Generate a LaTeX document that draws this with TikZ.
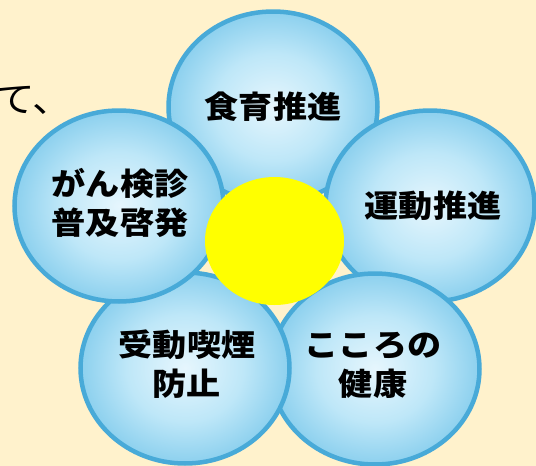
\documentclass[tikz,border=0pt]{standalone}
\usepackage{fontspec}
\newfontfamily\jp{Noto Sans CJK JP}
\usetikzlibrary{shapes.geometric}
\definecolor{bgcream}{RGB}{255,242,204}
\definecolor{petalline}{RGB}{72,170,216}
\definecolor{petalin}{RGB}{230,246,253}
\definecolor{petalmid}{RGB}{190,231,248}
\definecolor{petalout}{RGB}{140,208,238}
\definecolor{sunyellow}{RGB}{255,255,0}
\pgfdeclareradialshading{petalshade}{\pgfpoint{0bp}{0bp}}{%
  color(0bp)=(petalin); color(14bp)=(petalmid); color(25bp)=(petalout); color(50bp)=(petalout)}
\newcommand{\hs}[1]{\scalebox{1.1}[1]{#1}}
\tikzset{
  petal/.style={shape=ellipse, draw=petalline, line width=4.5pt, shading=petalshade,
    inner sep=0pt, minimum width=209pt, minimum height=191pt},
  petaltext/.style={inner sep=0pt, font=\jp\bfseries\fontsize{31}{39}\selectfont, text=black},
  sun/.style={shape=ellipse, fill=sunyellow, inner sep=0pt, minimum width=139pt, minimum height=128pt},
}
\begin{document}
\begin{tikzpicture}[x=1pt,y=-1pt]
\useasboundingbox (0,0) rectangle (536,466);
\fill[bgcream] (0,0) rectangle (536,466);
\node[inner sep=0pt, anchor=base west, font=\jp\fontsize{36}{40}\selectfont] (cut) at (-5,112) {\hs{て、}};
\node[petal] (p1) at (273,107) {};
\node[petal] (p3) at (430,206) {};
\node[petal] (p4) at (375,369) {};
\node[petal] (p5) at (185,368) {};
\node[petal] (p2) at (119,206) {};
\node[sun] (c) at (274.5,241) {};
\node[petaltext] (t1) at (273,107) {\hs{食育推進}};
\node[petaltext] (t2) at (120,207) {\hs{\begin{tabular}{@{}c@{}}がん検診\\普及啓発\end{tabular}}};
\node[petaltext] (t3) at (433,206) {\hs{運動推進}};
\node[petaltext] (t5) at (187,368) {\hs{\begin{tabular}{@{}c@{}}受動喫煙\\防止\end{tabular}}};
\node[petaltext] (t4) at (373,368) {\hs{\begin{tabular}{@{}c@{}}こころの\\健康\end{tabular}}};
\end{tikzpicture}
\end{document}
